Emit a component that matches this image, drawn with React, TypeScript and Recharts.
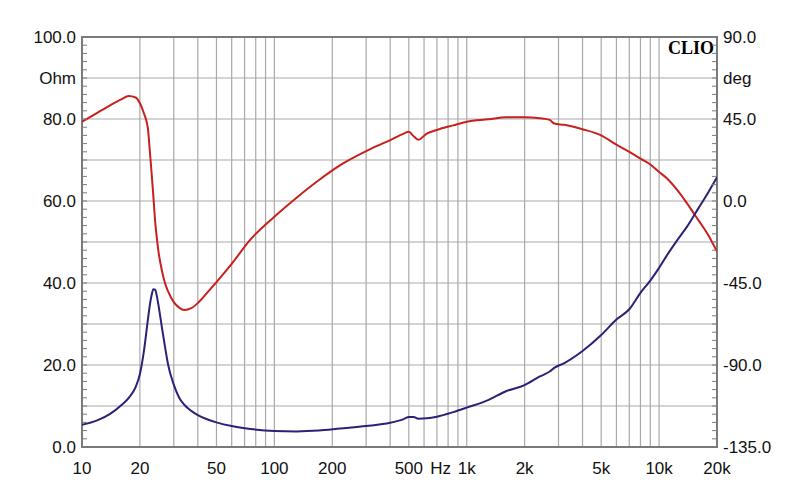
import { CartesianGrid, Line, LineChart, ReferenceArea, XAxis, YAxis } from "recharts";

// measurement points, Hz
const freqHz = [
  10, 12, 14, 16, 17.5, 19, 20, 21, 22, 22.5, 23, 23.5, 24, 24.5, 25, 26, 27, 28, 30, 32, 34, 37, 40, 45, 50, 60, 75,
  100, 130, 170, 220, 300, 400, 470, 500, 530, 560, 620, 700, 850, 1000, 1300, 1600, 2000, 2400, 2700, 2850, 3200, 4000,
  5000, 6000, 7000, 8000, 9000, 10000, 11000, 12500, 14000, 16000, 18000, 20000
];

// blue curve, left axis
const impedanceOhm = [
  5.4, 6.5, 8.1, 10.2, 12.0, 14.6, 17.8, 23.5, 31, 34.5, 37, 38.5, 38.4, 36.8, 34.5, 29.3, 24.5, 20.2, 15.2, 12.0, 10.3,
  8.8, 7.8, 6.7, 6.0, 5.1, 4.4, 3.9, 3.8, 4.0, 4.5, 5.1, 5.9, 6.8, 7.3, 7.3, 6.9, 7.0, 7.4, 8.5, 9.6, 11.5, 13.6, 15.1,
  17.2, 18.4, 19.3, 20.4, 23.4, 27.3, 31.1, 33.6, 37.6, 40.6, 43.7, 46.8, 50.6, 53.8, 58.2, 62.1, 65.8
];

// red curve, right axis
const phaseDeg = [
  43.5, 48.4, 52.5, 55.8, 57.6, 56.8, 53.6, 48, 40, 28, 15.5, 2.4, -11, -20.5, -28, -38, -45, -49.5, -55.5, -58.5,
  -59.8, -58.8, -56, -50, -44.5, -34.5, -21.2, -8.6, 1.7, 11.4, 19.7, 27.4, 33.4, 37, 38, 35.5, 33.6, 37, 39, 41.5,
  43.5, 44.8, 46.0, 46.0, 45.4, 44.5, 42.5, 41.8, 39.4, 36.0, 30.9, 27, 23.2, 20, 15.9, 12.4, 5.7, -1.4, -10.5, -18.7,
  -27.8
];

const ohmGrid = [0, 10, 20, 30, 40, 50, 60, 70, 80, 90, 100];
const ohmLabels: Record<number, string> = {
  0: "0.0",
  20: "20.0",
  40: "40.0",
  60: "60.0",
  80: "80.0",
  90: "Ohm",
  100: "100.0"
};

const degLabels: Record<number, string> = {
  "-135": "-135.0",
  "-90": "-90.0",
  "-45": "-45.0",
  0: "0.0",
  45: "45.0",
  67.5: "deg",
  90: "90.0"
};

const freqGrid = [
  10, 20, 30, 40, 50, 60, 70, 80, 90, 100, 200, 300, 400, 500, 600, 700, 800, 900, 1000, 2000, 3000, 4000, 5000, 6000,
  7000, 8000, 9000, 10000, 20000
];
const freqLabels: Record<number, string> = {
  10: "10",
  20: "20",
  50: "50",
  100: "100",
  200: "200",
  500: "500",
  1000: "1k",
  2000: "2k",
  5000: "5k",
  10000: "10k",
  20000: "20k"
};

// small inside ticks every 2 ohm / 4.5 deg
const ohmMinor = Array.from({ length: 51 }, (_, i) => i * 2);
const degMinor = Array.from({ length: 51 }, (_, i) => -135 + i * 4.5);

const data = freqHz.map((f, i) => ({ f, ohm: impedanceOhm[i], deg: phaseDeg[i] }));

const font = "'Liberation Sans', Arial, sans-serif";
const gridColor = "#a9a9a9";
const frameColor = "#7a7a7a";

function FreqTick(props: any) {
  const { x, y, payload } = props;
  const label = freqLabels[payload.value];
  if (!label) return null;
  return (
    <g>
      <text x={x} y={y + 13} textAnchor="middle" dominantBaseline="central" fontFamily={font} fontSize={17} fill="#111">
        {label}
      </text>
      {payload.value === 1000 && (
        <text x={x - 26} y={y + 13} textAnchor="middle" dominantBaseline="central" fontFamily={font} fontSize={17} fill="#111">
          Hz
        </text>
      )}
    </g>
  );
}

// x here is plot edge - 8 (tickSize 6 + tickMargin 2)
function OhmTick(props: any) {
  const { x, y, payload } = props;
  const label = ohmLabels[payload.value];
  return (
    <g>
      <line x1={x + 8} x2={x + 13} y1={y} y2={y} stroke={frameColor} strokeWidth={1} />
      {label && (
        <text x={x + 2} y={y} textAnchor="end" dominantBaseline="central" fontFamily={font} fontSize={17} fill="#111">
          {label}
        </text>
      )}
    </g>
  );
}

function DegTick(props: any) {
  const { x, y, payload } = props;
  const label = degLabels[payload.value];
  return (
    <g>
      <line x1={x - 8} x2={x - 13} y1={y} y2={y} stroke={frameColor} strokeWidth={1} />
      {label && (
        <text x={x - 2} y={y} textAnchor="start" dominantBaseline="central" fontFamily={font} fontSize={17} fill="#111">
          {label}
        </text>
      )}
    </g>
  );
}

export default function App() {
  return (
    <div style={{ position: "absolute", left: 0, top: 0, width: 800, height: 504, background: "#fff" }}>
      <LineChart width={800} height={504} data={data} margin={{ top: 37, right: 10, bottom: 27, left: 10 }}>
        <CartesianGrid yAxisId="ohm" horizontalValues={ohmGrid} stroke={gridColor} strokeWidth={1.2} />
        <XAxis
          dataKey="f"
          type="number"
          scale="log"
          domain={[10, 20000]}
          ticks={freqGrid}
          interval={0}
          allowDataOverflow
          height={30}
          tickLine={false}
          axisLine={false}
          tick={<FreqTick />}
        />
        <YAxis
          yAxisId="ohm"
          type="number"
          domain={[0, 100]}
          ticks={ohmMinor}
          interval={0}
          width={72}
          tickLine={false}
          axisLine={false}
          tick={<OhmTick />}
        />
        <YAxis
          yAxisId="deg"
          orientation="right"
          type="number"
          domain={[-135, 90]}
          ticks={degMinor}
          interval={0}
          width={73}
          tickLine={false}
          axisLine={false}
          tick={<DegTick />}
        />
        <ReferenceArea
          yAxisId="ohm"
          x1={10}
          x2={20000}
          y1={0}
          y2={100}
          fill="none"
          stroke={frameColor}
          strokeWidth={2}
          fillOpacity={0}
        />
        <Line
          yAxisId="deg"
          type="monotone"
          dataKey="deg"
          stroke="#c8201c"
          strokeWidth={2}
          dot={false}
          isAnimationActive={false}
        />
        <Line
          yAxisId="ohm"
          type="monotone"
          dataKey="ohm"
          stroke="#2a2277"
          strokeWidth={2}
          dot={false}
          isAnimationActive={false}
        />
        <text
          x={714}
          y={48}
          textAnchor="end"
          dominantBaseline="central"
          fontFamily="'Liberation Serif', 'Times New Roman', serif"
          fontWeight="bold"
          fontSize={18}
          fill="#000"
        >
          CLIO
        </text>
      </LineChart>
    </div>
  );
}
